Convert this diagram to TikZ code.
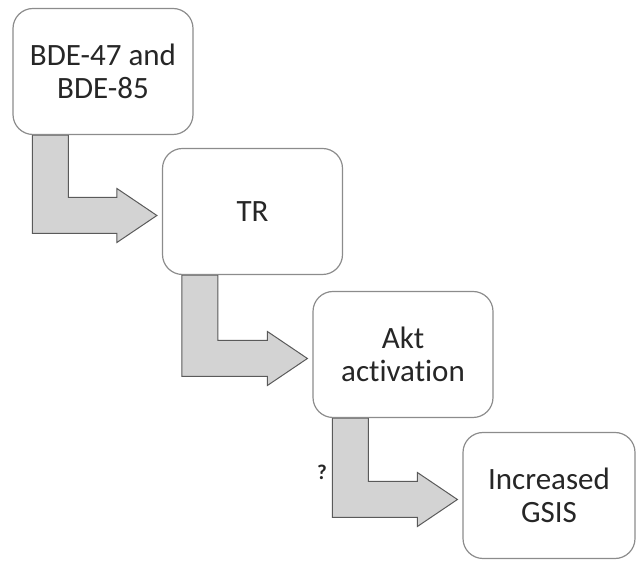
\documentclass[tikz,border=0pt]{standalone}
\usepackage{fontspec}
\setmainfont[Ligatures=NoCommon]{Carlito}
\usetikzlibrary{calc,backgrounds}
\definecolor{boxline}{HTML}{8C8C8C}
\definecolor{textc}{HTML}{262626}
\definecolor{arrowline}{HTML}{5A5A5A}
\definecolor{arrowfill}{HTML}{D3D3D3}
\begin{document}
\begin{tikzpicture}[x=1pt,y=1pt,
  box/.style={draw=boxline, line width=1.2pt, rounded corners=20pt, fill=white,
    minimum width=180pt, minimum height=126pt, align=center,
    font=\fontsize{31}{33}\selectfont, text=textc, inner sep=0pt},
  bentarrow/.style={draw=arrowline, fill=arrowfill, line width=1pt, line join=miter}]
\useasboundingbox (0,0) rectangle (636,561);
\node[box] (b1) at (103,489.5) {BDE-47 and\\BDE-85};
\node[box] (b2) at (252.5,349.5) {TR};
\node[box] (b3) at (403,206.5) {Akt\\activation};
\node[box, minimum width=172pt] (b4) at (549,65.5) {Increased\\GSIS};
\begin{scope}[on background layer]
\foreach \a/\b in {b1/b2, b2/b3, b3/b4}{
  \draw[bentarrow] let \p1=(\a.south west), \p2=(\b.west) in
    (\x1+20pt,\y1) -- (\x1+20pt,\y2-22pt) -- (\x2-45pt,\y2-22pt) -- (\x2-45pt,\y2-31pt)
    -- (\x2-5pt,\y2-4pt) -- (\x2-45pt,\y2+23pt) -- (\x2-45pt,\y2+14pt)
    -- (\x1+56pt,\y2+14pt) -- (\x1+56pt,\y1) -- cycle;
}
\end{scope}
\node[font=\fontsize{21}{23}\selectfont\bfseries, text=textc] (q) at (322,89) {?};
\end{tikzpicture}
\end{document}
